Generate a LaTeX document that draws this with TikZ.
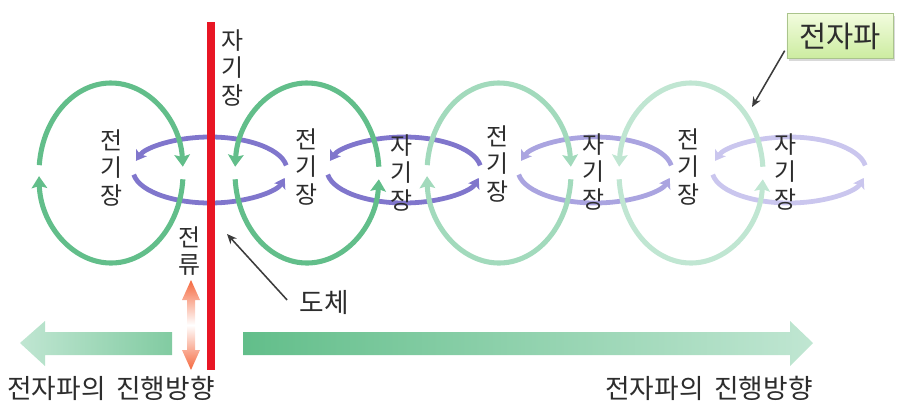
\documentclass[tikz,border=0pt]{standalone}
\usepackage{fontspec}
\setmainfont{Noto Sans CJK KR}
\usetikzlibrary{arrows.meta,shadows}

\definecolor{efieldA}{RGB}{98,190,138}
\definecolor{efieldB}{RGB}{162,218,188}
\definecolor{efieldC}{RGB}{192,230,210}
\definecolor{bfieldA}{RGB}{128,118,204}
\definecolor{bfieldB}{RGB}{170,164,224}
\definecolor{bfieldC}{RGB}{202,198,238}
\definecolor{wirered}{RGB}{232,22,36}
\definecolor{currentorange}{RGB}{245,104,62}
\definecolor{textgray}{RGB}{45,45,45}
\definecolor{pointergray}{RGB}{60,60,60}
\definecolor{boxtop}{RGB}{242,252,222}
\definecolor{boxbottom}{RGB}{204,236,160}
\definecolor{boxedge}{RGB}{170,196,140}

\tikzset{
  eline/.style={line width=3.6pt,-{Stealth[length=8.5pt,width=11pt,inset=1.5pt]}},
  bline/.style={line width=3.4pt,-{Stealth[length=7pt,width=9pt,inset=1.5pt]}},
  fieldtext/.style={align=center,inner sep=0pt,text=textgray,font=\fontsize{17}{19.4}\selectfont},
  dirtext/.style={inner sep=0pt,text=textgray,font=\fontsize{19}{22}\selectfont},
  pointer/.style={draw=pointergray,line width=1.1pt,-{Stealth[length=7pt,width=6pt]}},
  wavebox/.style={draw=boxedge,top color=boxtop,bottom color=boxbottom,
    minimum width=2.65cm,minimum height=1.12cm,text=textgray,
    font=\fontsize{21}{24}\selectfont,
    drop shadow={shadow xshift=1.5pt,shadow yshift=-1.5pt,opacity=0.3}}
}

\begin{document}
\begin{tikzpicture}[x=0.025cm,y=-0.025cm]
\useasboundingbox (0,0) rectangle (902,402);

% magnetic field rings
\foreach \cx/\col in {210/bfieldA,404/bfieldA,595/bfieldB,789/bfieldC}{
  \draw[bline,\col] (\cx,170) ++(352:77 and 33) arc (352:196:77 and 33);
  \draw[bline,\col] (\cx,170) ++(172:77 and 33) arc (172:14:77 and 33);
}

% electric field loops
\foreach \cx/\col/\a/\b/\c/\d in {111/efieldA/185/356/4/178,307/efieldA/356/184/176/4,
    499/efieldB/185/356/4/178,691/efieldC/356/184/176/4}{
  \draw[eline,\col] (\cx,173) ++(\a:72 and 90) arc (\a:\b:72 and 90);
  \draw[eline,\col] (\cx,173) ++(\c:72 and 90) arc (\c:\d:72 and 90);
}

% conductor
\draw[wirered,line width=5.7pt] (211,22) -- (211,370);

% current
\shade[top color=currentorange,bottom color=white]
  (191,280) -- (200,300) -- (195,300) -- (195,325) -- (187,325) -- (187,300) -- (182,300) -- cycle;
\shade[top color=white,bottom color=currentorange]
  (187,325) -- (195,325) -- (195,350) -- (200,350) -- (191,370) -- (182,350) -- (187,350) -- cycle;

% direction of travel
\shade[left color=efieldC,right color=efieldA!80!white]
  (20,343) -- (45,321) -- (45,332) -- (172,332) -- (172,355) -- (45,355) -- (45,366) -- cycle;
\shade[left color=efieldA,right color=efieldC]
  (243,332) -- (790,332) -- (790,321) -- (813,343) -- (790,366) -- (790,355) -- (243,355) -- cycle;

\node[fieldtext] (e1) at (111,168) {전\\기\\장};
\node[fieldtext] (e2) at (306,167) {전\\기\\장};
\node[fieldtext] (e3) at (497,164) {전\\기\\장};
\node[fieldtext] (e4) at (688,167) {전\\기\\장};

\node[fieldtext] (b0) at (232,68) {자\\기\\장};
\node[fieldtext] (b1) at (401,173) {자\\기\\장};
\node[fieldtext] (b2) at (593,172) {자\\기\\장};
\node[fieldtext] (b3) at (785,172) {자\\기\\장};

\node[fieldtext] (current) at (189,251) {전\\류};

\node[dirtext] (conductor) at (324,302) {도체};
\coordinate (wirepoint) at (227,234);
\draw[pointer] ([xshift=-0.3cm,yshift=0.05cm]conductor.west) -- (wirepoint);

\node[wavebox] (wave) at (840,36) {전자파};
\coordinate (wavepoint) at (752,107);
\draw[pointer] ([xshift=-0.05cm,yshift=0.2cm]wave.south west) -- (wavepoint);

\node[dirtext] (dirleft) at (111,388) {전자파의\hspace{0.4em}진행방향};
\node[dirtext] (dirright) at (709,388) {전자파의\hspace{0.4em}진행방향};

\end{tikzpicture}
\end{document}
